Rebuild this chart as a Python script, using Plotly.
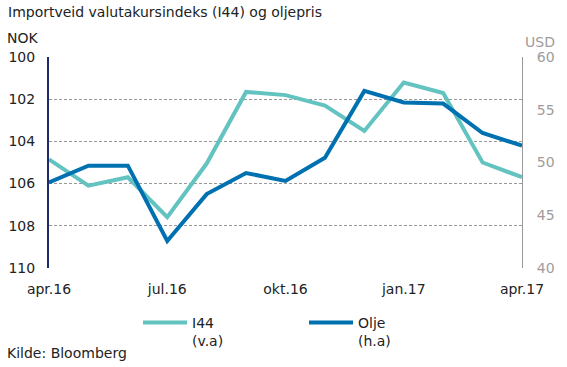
import plotly.graph_objects as go

months = ["apr.16", "mai.16", "jun.16", "jul.16", "aug.16", "sep.16", "okt.16",
          "nov.16", "des.16", "jan.17", "feb.17", "mar.17", "apr.17"]
i44 = [104.85, 106.1, 105.7, 107.6, 105.05, 101.65, 101.8, 102.3, 103.5, 101.2, 101.7, 105.0, 105.7]
olje = [48.1, 49.7, 49.7, 42.55, 47.0, 49.0, 48.25, 50.45, 56.8, 55.7, 55.6, 52.8, 51.6]
xtick_labels = ["apr.16", "jul.16", "okt.16", "jan.17", "apr.17"]
left_ticks = [100, 102, 104, 106, 108, 110]
right_ticks = [40, 45, 50, 55, 60]

FONT = "DejaVu Sans"
TEAL = "#63C3C0"
BLUE = "#0071B0"
PW, PH = 473, 211

fig = go.Figure()
fig.add_trace(go.Scatter(x=months, y=i44, name="I44<br>(v.a)", mode="lines",
                         line=dict(color=TEAL, width=4), yaxis="y"))
fig.add_trace(go.Scatter(x=months, y=olje, name="Olje<br>(h.a)", mode="lines",
                         line=dict(color=BLUE, width=4), yaxis="y2"))

fig.update_layout(
    width=567, height=367,
    margin=dict(l=49, r=45, t=57, b=99, autoexpand=False),
    paper_bgcolor="white", plot_bgcolor="white",
    font=dict(family=FONT, size=14, color="#222222"),
    showlegend=True,
    legend=dict(orientation="h", x=(138 - 49) / PW, xanchor="left",
                y=-(307 - 268) / PH, yanchor="top",
                valign="top", entrywidth=107, itemwidth=44,
                font=dict(family=FONT, size=14, color="#222222")),
    xaxis=dict(type="category", range=[0, len(months) - 1], automargin=False,
               tickmode="array", tickvals=xtick_labels, ticktext=xtick_labels,
               showgrid=False, showline=False, zeroline=False, ticks="",
               ticklabelstandoff=11,
               tickfont=dict(family=FONT, size=14, color="#222222")),
    yaxis=dict(range=[110.01, 99.99], tickmode="array", tickvals=left_ticks, automargin=False,
               showgrid=True, gridcolor="#999999", griddash="3px,2px", gridwidth=1,
               showline=True, linecolor="#1F2A6B", linewidth=2,
               zeroline=False, ticks="", ticklabelstandoff=9,
               tickfont=dict(family=FONT, size=14, color="#222222")),
    yaxis2=dict(range=[39.98, 60.02], tickmode="array", tickvals=right_ticks, automargin=False,
                overlaying="y", side="right", showgrid=False,
                showline=True, linecolor="#999999", linewidth=1,
                zeroline=False, ticks="", ticklabelstandoff=11,
                tickfont=dict(family=FONT, size=14, color="#A09C9C")),
    annotations=[
        dict(text="Importveid valutakursindeks (I44) og oljepris", xref="paper", yref="paper",
             x=-(49 - 6) / PW, y=1 + 45 / PH, xanchor="left", yanchor="middle", showarrow=False,
             font=dict(family=FONT, size=14, color="#222222")),
        dict(text="NOK", xref="paper", yref="paper", x=-(49 - 5) / PW, y=1 + 19 / PH,
             xanchor="left", yanchor="middle", showarrow=False,
             font=dict(family=FONT, size=14, color="#222222")),
        dict(text="USD", xref="paper", yref="paper", x=1 + 35 / PW, y=1 + 15 / PH,
             xanchor="right", yanchor="middle", showarrow=False,
             font=dict(family=FONT, size=14, color="#A09C9C")),
        dict(text="Kilde: Bloomberg", xref="paper", yref="paper", x=-(49 - 5) / PW,
             y=-(353 - 268) / PH, xanchor="left", yanchor="middle", showarrow=False,
             font=dict(family=FONT, size=14, color="#222222")),
    ],
)

fig.write_html("out.html", config={"displayModeBar": False},
               post_script="document.body.style.margin='0px';document.body.style.padding='0px';")
